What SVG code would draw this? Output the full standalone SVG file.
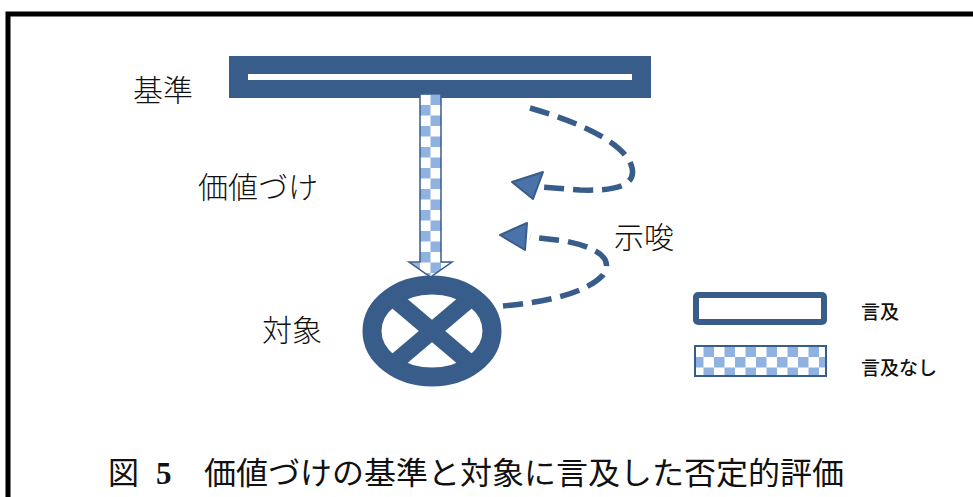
<svg xmlns="http://www.w3.org/2000/svg" width="973" height="497" viewBox="0 0 973 497">
<defs>
<pattern id="chk" patternUnits="userSpaceOnUse" width="21" height="21" x="0" y="0">
<rect width="21" height="21" fill="#ffffff"/>
<rect width="10.5" height="10.5" fill="#8fb2e0"/>
<rect x="10.5" y="10.5" width="10.5" height="10.5" fill="#8fb2e0"/>
</pattern>
<clipPath id="ell"><ellipse cx="432" cy="331" rx="60" ry="46"/></clipPath>
<style>
.lbl{font-family:"Noto Sans CJK JP",sans-serif;font-size:30px;font-weight:300;fill:#111}
.leg{font-family:"Noto Sans CJK JP",sans-serif;font-size:19px;font-weight:500;fill:#111}
.cap{font-family:"Liberation Serif","Noto Sans CJK JP",serif;font-size:31px;fill:#111}
.dash{fill:none;stroke:#385d8a;stroke-width:5.5;stroke-dasharray:20 9}
.head{fill:#4a73aa;stroke:#385d8a;stroke-width:2;stroke-linejoin:round}
</style>
</defs>
<rect x="8" y="14" width="1000" height="600" fill="none" stroke="#000" stroke-width="5"/>

<g id="kijun">
<rect x="229" y="56" width="422" height="42" fill="#385d8a"/>
<rect x="248" y="74" width="384" height="6" fill="#fff"/>
<text class="lbl" x="133" y="101">基準</text>
</g>

<g id="taisho">
<ellipse cx="432" cy="331" rx="60" ry="46" fill="none" stroke="#385d8a" stroke-width="19"/>
<g clip-path="url(#ell)" stroke="#385d8a" stroke-width="17">
<line x1="372" y1="280" x2="492" y2="382"/>
<line x1="492" y1="280" x2="372" y2="382"/>
</g>
<text class="lbl" x="262" y="341">対象</text>
</g>

<g id="connectors">
<g id="kachizuke">
<path d="M420,94 L441,94 L441,262 L452,262 L430.5,277 L409,262 L420,262 Z" fill="url(#chk)" stroke="#385d8a" stroke-width="1.5" stroke-linejoin="miter"/>
<text class="lbl" x="198" y="198">価値づけ</text>
</g>
<g id="shisa">
<path class="dash" d="M530,108 C578,122 618,140 630,162 C642,188 610,191 580,190 L542,187"/>
<path class="head" d="M512,182 L543,172 L533,199 Z"/>
<path class="dash" d="M503,306 C545,302 585,294 603,275 C615,258 595,247 565,241 L530,237"/>
<path class="head" d="M500,235 L527,223 L525,250 Z"/>
<text class="lbl" x="614" y="248">示唆</text>
</g>
</g>

<g id="legend">
<rect x="696" y="295" width="128" height="27" rx="2" fill="#fff" stroke="#385d8a" stroke-width="6"/>
<text class="leg" x="861" y="319">言及</text>
<rect x="695" y="346" width="131" height="30" fill="url(#chk)" stroke="#385d8a" stroke-width="2"/>
<text class="leg" x="861" y="375">言及なし</text>
</g>

<g id="caption">
<text class="cap" x="108" y="484">図</text>
<text class="cap" x="156" y="484" font-weight="bold">5</text>
<text class="cap" x="204" y="484" textLength="640" lengthAdjust="spacingAndGlyphs">価値づけの基準と対象に言及した否定的評価</text>
</g>
</svg>
